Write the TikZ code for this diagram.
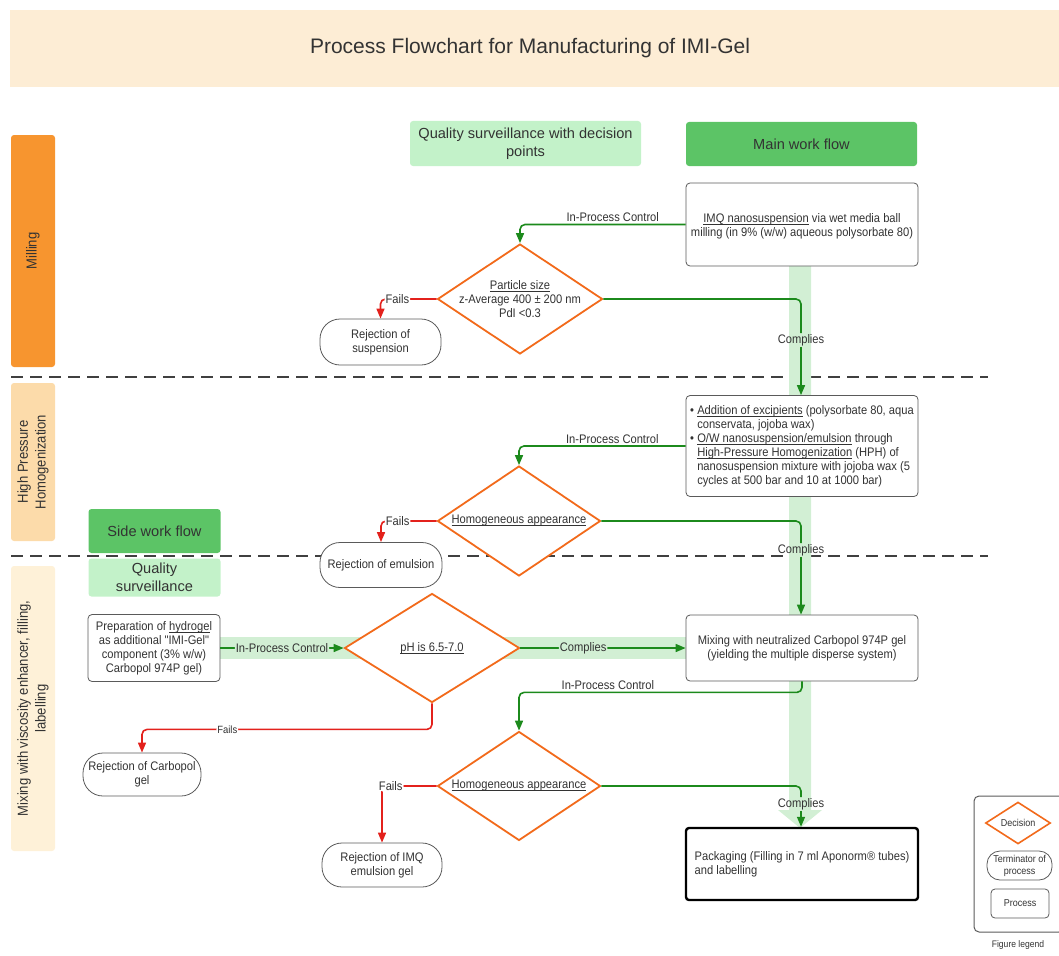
\documentclass[tikz,border=0pt]{standalone}
\usepackage{fontspec}
\setmainfont{Liberation Sans}
\newfontfamily\condfam[FakeStretch=0.9]{Liberation Sans}
\usetikzlibrary{shapes.geometric,arrows.meta,calc}
\definecolor{titlebg}{HTML}{FDEDD5}
\definecolor{millc}{HTML}{F7952F}
\definecolor{hphc}{HTML}{FCDBAA}
\definecolor{mixc}{HTML}{FEF1D8}
\definecolor{wfgreen}{HTML}{5CC466}
\definecolor{qgreen}{HTML}{C3F2C9}
\definecolor{bandc}{HTML}{D2EFD4}
\definecolor{decorange}{HTML}{F26A1B}
\definecolor{arrgreen}{HTML}{1C8A1C}
\definecolor{arrred}{HTML}{E3211C}
\definecolor{boxgray}{HTML}{5A5A5A}
\definecolor{txtc}{HTML}{333333}
\newsavebox\myulbox
\newcommand\myul[1]{\sbox\myulbox{#1}\rlap{\rule[-1.9pt]{\wd\myulbox}{0.6pt}}\usebox\myulbox}
\newcommand\boxfont{\condfam\fontsize{12.4}{14}\selectfont}
\newcommand\lanefont{\condfam\fontsize{14.5}{17.5}\selectfont}
\newcommand\hdrfont{\fontsize{14.6}{17.5}\selectfont}
\newcommand\legfont{\condfam\fontsize{10}{12}\selectfont}
\tikzset{
  proc/.style={draw=boxgray, line width=0.8pt, fill=white, rounded corners=4pt,
    inner sep=2pt, font=\boxfont, text=txtc, align=center},
  term/.style={draw=boxgray, line width=0.8pt, fill=white, rounded corners=20pt,
    inner sep=2pt, font=\boxfont, text=txtc, align=center},
  dec/.style={diamond, draw=decorange, line width=1.8pt, fill=white, inner sep=0pt},
  dectext/.style={font=\boxfont, text=txtc, align=center, inner sep=0pt},
  lane/.style={rounded corners=3pt, rotate=90, font=\lanefont, text=txtc, align=center, inner sep=0pt},
  hdr/.style={rounded corners=3pt, font=\hdrfont, text=txtc, align=center, inner sep=0pt},
  lbl/.style={font=\boxfont, text=txtc, inner sep=1pt, fill=white},
  garr/.style={draw=arrgreen, line width=1.6pt, rounded corners=5pt, -{Triangle[length=10pt,width=8pt]}},
  gline/.style={draw=arrgreen, line width=1.6pt, rounded corners=5pt},
  rarr/.style={draw=arrred, line width=1.6pt, rounded corners=5pt, -{Triangle[length=10pt,width=8pt]}},
  dashline/.style={draw=black!75, line width=1.2pt, dash pattern=on 12pt off 7pt},
}
\begin{document}
\begin{tikzpicture}[x=1pt,y=-1pt]
\useasboundingbox (0,0) rectangle (1059,955);
% title banner
\node[fill=titlebg, minimum width=1056, minimum height=77, inner sep=0pt] (banner) at (538,48.5) {};
\node[font=\fontsize{21}{24}\selectfont, text=txtc] (title) at (530,48) {Process Flowchart for Manufacturing of IMI-Gel};
% lanes
\node[lane, fill=millc, minimum width=232, minimum height=44] (lmill) at (33,251) {Milling};
\node[lane, fill=hphc, minimum width=158, minimum height=44] (lhph) at (33,462) {High Pressure\\Homogenization};
\node[lane, fill=mixc, minimum width=285, minimum height=44] (lmix) at (33,708.5) {Mixing with viscosity enhancer, filling,\\labelling};
% dashed separators
\draw[dashline] (11,377) -- (988,377);
\draw[dashline] (11,556) -- (988,556);
% headers
\node[hdr, fill=qgreen, minimum width=231, minimum height=45] (hqs) at (525.5,143.5) {Quality surveillance with decision\\points};
\node[hdr, fill=wfgreen, minimum width=231, minimum height=44] (hmain) at (801.5,144) {Main work flow};
\node[hdr, fill=wfgreen, minimum width=132, minimum height=44] (hside) at (154.5,531) {Side work flow};
\node[hdr, fill=qgreen, minimum width=132, minimum height=38] (hqs2) at (154.5,577.5) {Quality\\surveillance};
% bands
\fill[bandc] (789,266) -- (811,266) -- (811,810) -- (822,810) -- (800,828) -- (778,810) -- (789,810) -- cycle;
\fill[bandc] (220,637) rectangle (686,659);
% process boxes
\node[proc, minimum width=232, minimum height=83] (imq) at (802,224.5) {};
\node[font=\boxfont, text=txtc, align=center, inner sep=0pt] (imqt) at (802,226) {\myul{IMQ nanosuspension} via wet media ball\\milling (in 9\% (w/w) aqueous polysorbate 80)};
\node[proc, minimum width=232, minimum height=101, align=left] (box2) at (802,446) {%
• \myul{Addition of excipients} (polysorbate 80, aqua\\
\hphantom{• }conservata, jojoba wax)\\
• \myul{O/W nanosuspension/emulsion} through\\
\hphantom{• }\myul{High-Pressure Homogenization} (HPH) of\\
\hphantom{• }nanosuspension mixture with jojoba wax (5\\
\hphantom{• }cycles at 500 bar and 10 at 1000 bar)};
\node[proc, minimum width=232, minimum height=66] (mix) at (802,648) {Mixing with neutralized Carbopol 974P gel\\(yielding the multiple disperse system)};
\node[proc, minimum width=132, minimum height=67] (hyd) at (154,648) {Preparation of \myul{hydroge}l\\as additional "IMI-Gel"\\component (3\% w/w)\\Carbopol 974P gel)};
\node[proc, draw=black, line width=2.4pt, rounded corners=3pt, minimum width=232, minimum height=72, align=left] (pack) at (802,864) {Packaging (Filling in 7 ml Aponorm® tubes)\\and labelling};
% decisions
\node[dec, minimum width=165, minimum height=110] (d1) at (520,299) {};
\node[dectext] (d1t) at (520,299) {\myul{Particle size}\\z-Average 400 ± 200 nm\\PdI <0.3};
\node[dec, minimum width=163, minimum height=110] (d2) at (519,521) {};
\node[dectext] (d2t) at (519,521) {\myul{Homogeneous appearance}};
\node[dec, minimum width=175, minimum height=109] (d3) at (432,648) {};
\node[dectext] (d3t) at (432,648) {\myul{pH is 6.5-7.0}};
\node[dec, minimum width=163, minimum height=109] (d4) at (519,786) {};
\node[dectext] (d4t) at (519,786) {\myul{Homogeneous appearance}};
% terminators
\node[term, minimum width=121, minimum height=46] (t1) at (380.5,342) {Rejection of\\suspension};
\node[term, minimum width=122, minimum height=45] (t2) at (381,565) {Rejection of emulsion};
\node[term, minimum width=118, minimum height=43] (t3) at (142,774.5) {Rejection of Carbopol\\gel};
\node[term, minimum width=120, minimum height=44] (t4) at (382,865) {Rejection of IMQ\\emulsion gel};
% connectors: milling
\draw[garr] (imq.west) -| (d1.north) node[lbl, fill=none, pos=0.22, above=1pt] {In-Process Control};
\node[lbl, fill=none] (c1) at (801,340) {Complies};
\draw[gline] (d1.east) -| (c1.north);
\draw[garr] (c1.south) -- (c1.south |- box2.north);
\draw[rarr] (d1.west) -| (t1.north) node[lbl, pos=0.35] {Fails};
% HPH
\draw[garr] (box2.west) -| (d2.north) node[lbl, fill=none, pos=0.22, above=1pt] {In-Process Control};
\node[lbl, fill=none] (c2) at (801,550) {Complies};
\draw[gline] (d2.east) -| (c2.north);
\draw[garr] (c2.south) -- (c2.south |- mix.north);
\draw[rarr] (d2.west) -| (t2.north) node[lbl, pos=0.35] {Fails};
% mixing
\draw[garr] (hyd.east) -- (d3.west) node[lbl, fill=bandc, midway] {In-Process Control};
\draw[garr] (d3.east) -- (mix.west) node[lbl, fill=bandc, pos=0.38] {Complies};
\draw[rarr] (d3.south) -- ++(0,26) -| (t3.north) node[lbl, pos=0.353, font=\condfam\fontsize{10.5}{12}\selectfont] {Fails};
\draw[garr] (mix.south) -- ++(0,11) -| (d4.north) node[lbl, fill=none, pos=0.343, above=1pt] {In-Process Control};
\node[lbl, fill=none] (c3) at (801,804) {Complies};
\draw[gline] (d4.east) -| (c3.north);
\draw[garr] (c3.south) -- (c3.south |- pack.north);
\draw[rarr] (d4.west) -| (t4.north) node[lbl, pos=0.42] {Fails};
% legend
\node[draw=boxgray, line width=1pt, rounded corners=5pt, minimum width=90, minimum height=136] (legend) at (1019,864) {};
\node[dec, line width=1.6pt, minimum width=65, minimum height=36, font=\legfont, text=txtc] (ld) at (1018,823) {Decision};
\node[term, rounded corners=13pt, minimum width=65, minimum height=29, font=\legfont, inner sep=1pt] (lt) at (1019.5,865.5) {Terminator of\\process};
\node[proc, minimum width=58, minimum height=29, font=\legfont] (lp) at (1020,903.5) {Process};
\node[font=\condfam\fontsize{9.5}{11}\selectfont, text=txtc] (legt) at (1018,945) {Figure legend};
\end{tikzpicture}
\end{document}
